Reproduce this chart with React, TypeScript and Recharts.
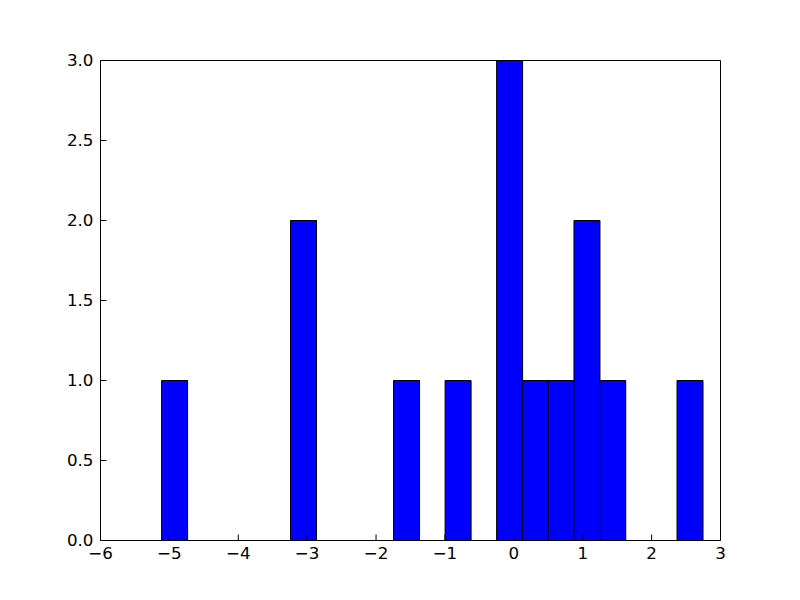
import { ComposedChart, Bar, XAxis, YAxis } from 'recharts';

// histogram bin centres (21 bins of ~0.374 wide, from -5.113 to 2.743)
const BIN_CENTERS = [
  -4.926, -4.552, -4.178, -3.804, -3.430, -3.055, -2.681, -2.307, -1.933, -1.559, -1.185,
  -0.811, -0.437, -0.063, 0.311, 0.686, 1.060, 1.434, 1.808, 2.182, 2.556,
];
const COUNTS = [1, 0, 0, 0, 0, 2, 0, 0, 0, 1, 0, 1, 0, 3, 1, 1, 2, 1, 0, 0, 1];

const X_TICKS = [-6, -5, -4, -3, -2, -1, 0, 1, 2, 3];
const Y_TICKS = [0, 0.5, 1, 1.5, 2, 2.5, 3];

const data = BIN_CENTERS.map((x, i) => ({ x, count: COUNTS[i] }));

const FONT = { fontFamily: 'DejaVu Sans', fontSize: 16.7, fill: '#000' };
const fmtX = (v: number) => (v < 0 ? `\u2212${Math.abs(v)}` : `${v}`);

export default function App() {
  return (
    <div style={{ position: 'absolute', left: 0, top: 0, background: '#fff' }}>
      <ComposedChart
        width={800}
        height={600}
        data={data}
        margin={{ top: 0.5, right: 0, bottom: 0, left: 0.5 }}
        barCategoryGap={0}
        barGap={0}
      >
        <Bar
          xAxisId="bottom"
          yAxisId="left"
          dataKey="count"
          fill="#0000ff"
          stroke="#000"
          strokeWidth={1}
          isAnimationActive={false}
        />
        <XAxis
          xAxisId="bottom"
          dataKey="x"
          type="number"
          domain={[-6, 3]}
          ticks={X_TICKS}
          allowDataOverflow
          height={59.5}
          tickFormatter={fmtX}
          tick={FONT}
          tickSize={-6}
          tickMargin={13}
          stroke="#000"
        />
        <XAxis
          xAxisId="top"
          orientation="top"
          dataKey="x"
          type="number"
          domain={[-6, 3]}
          ticks={X_TICKS}
          allowDataOverflow
          height={60}
          tick={false}
          tickSize={-6}
          stroke="#000"
        />
        <YAxis
          yAxisId="left"
          type="number"
          domain={[0, 3]}
          ticks={Y_TICKS}
          width={100}
          tickFormatter={(v: number) => v.toFixed(1)}
          tick={FONT}
          tickSize={-6}
          tickMargin={13}
          stroke="#000"
        />
        <YAxis
          yAxisId="right"
          orientation="right"
          type="number"
          domain={[0, 3]}
          ticks={Y_TICKS}
          width={79.5}
          tick={false}
          tickSize={-6}
          stroke="#000"
        />
      </ComposedChart>
    </div>
  );
}
